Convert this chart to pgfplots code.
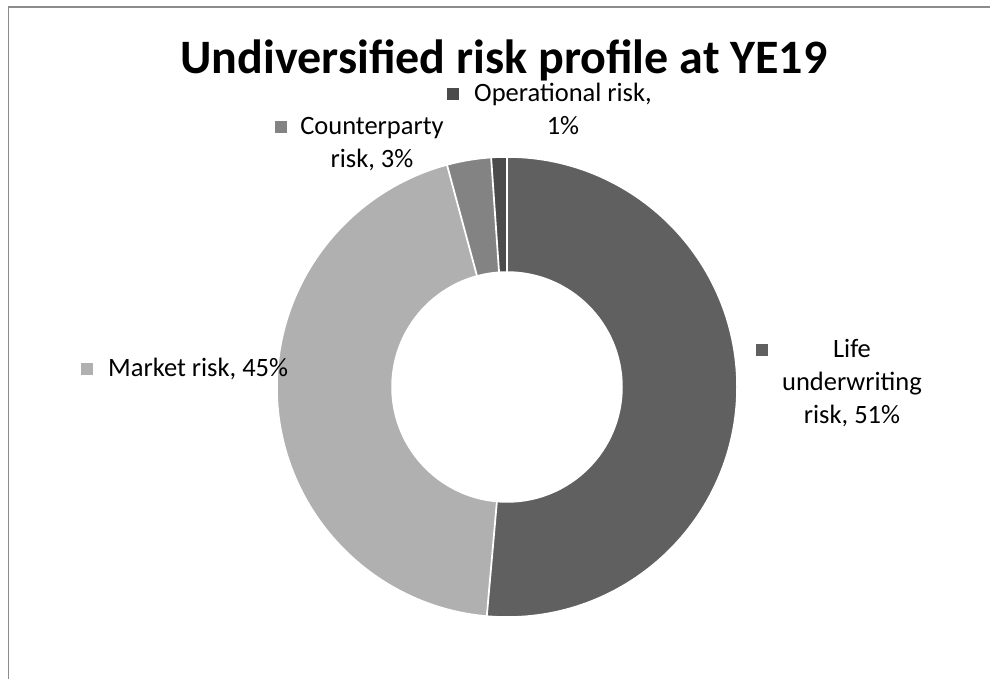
\documentclass[border=0pt]{standalone}
\usepackage{pgfplots}
\pgfplotsset{compat=1.18}
\usepackage{pgfplotstable}
\usepackage{fontspec}
\setmainfont{Carlito}
\definecolor{cLife}{HTML}{606060}
\definecolor{cMarket}{HTML}{B0B0B0}
\definecolor{cCounter}{HTML}{838383}
\definecolor{cOper}{HTML}{4B4B4B}
\definecolor{frame}{HTML}{8C8C8C}
\pgfplotstableread{
name value
Life 51.4
Market 44.4
Counterparty 3.1
Operational 1.1
}\risktable
\pgfplotstablegetelem{0}{value}\of\risktable \let\vA=\pgfplotsretval
\pgfplotstablegetelem{1}{value}\of\risktable \let\vB=\pgfplotsretval
\pgfplotstablegetelem{2}{value}\of\risktable \let\vC=\pgfplotsretval
\pgfplotstablegetelem{3}{value}\of\risktable \let\vD=\pgfplotsretval
\pgfmathsetmacro\aA{90}
\pgfmathsetmacro\aB{\aA-3.6*\vA}
\pgfmathsetmacro\aC{\aB-3.6*\vB}
\pgfmathsetmacro\aD{\aC-3.6*\vC}
\pgfmathsetmacro\aE{\aD-3.6*\vD}
\newcommand\slice[3]{%
  \fill[#3] (axis cs:507,292) ++(#1:230bp) arc[start angle=#1,end angle=#2,radius=230bp]
    -- ([shift={(#2:115bp)}]axis cs:507,292) arc[start angle=#2,end angle=#1,radius=115bp] -- cycle;}
\newcommand\sep[1]{%
  \draw[white,line width=1.8bp] ([shift={(#1:114bp)}]axis cs:507,292) -- ([shift={(#1:231bp)}]axis cs:507,292);}
\begin{document}
\begin{tikzpicture}
\begin{axis}[
  width=990bp, height=679bp, scale only axis,
  xmin=0, xmax=990, ymin=0, ymax=679,
  axis lines=none, clip=false,
]
\draw[frame,line width=1.5bp] (axis cs:990,672) -- (axis cs:8.5,672) -- (axis cs:8.5,0);
\node[font=\bfseries\fontsize{48bp}{52bp}\selectfont, anchor=base, inner sep=0pt] at (axis cs:504,605) {Undiversified risk profile at YE19};
\slice{\aA}{\aB}{cLife}
\slice{\aB}{\aC}{cMarket}
\slice{\aC}{\aD}{cCounter}
\slice{\aD}{\aE}{cOper}
\sep{\aA}\sep{\aB}\sep{\aC}\sep{\aD}
\draw[white,line width=1.5bp] (axis cs:507,292) circle[radius=230bp];
\draw[white,line width=1.5bp] (axis cs:507,292) circle[radius=115bp];
% labels
\tikzset{lbl/.style={font=\fontsize{26.5bp}{32bp}\selectfont, inner sep=0pt, anchor=base}}
\fill[cOper] (axis cs:446.5,579) rectangle (axis cs:458.5,591);
\node[lbl] at (axis cs:563,577) {Operational risk,};
\node[lbl] at (axis cs:563,544) {1\%};
\fill[cCounter] (axis cs:275,546) rectangle (axis cs:287,558);
\node[lbl] at (axis cs:372,544) {Counterparty};
\node[lbl] at (axis cs:372,511) {risk, 3\%};
\fill[cLife] (axis cs:755.5,323) rectangle (axis cs:767.5,335);
\node[lbl] at (axis cs:852,321) {Life};
\node[lbl] at (axis cs:852,288) {underwriting};
\node[lbl] at (axis cs:852,255) {risk, 51\%};
\fill[cMarket] (axis cs:80.5,304) rectangle (axis cs:92.5,316);
\node[lbl, anchor=base west] at (axis cs:108,302) {Market risk, 45\%};
\end{axis}
\pgfresetboundingbox
\path (0,0) rectangle (990bp,679bp);
\end{tikzpicture}
\end{document}
